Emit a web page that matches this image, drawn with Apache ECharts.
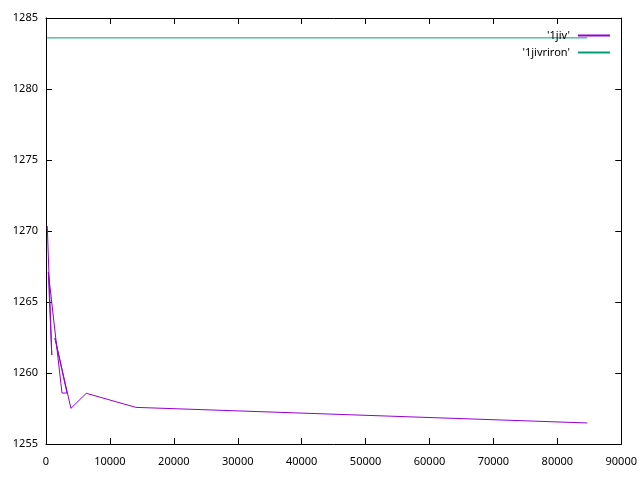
<!DOCTYPE html>
<html>
<head>
<meta charset="utf-8">
<script src="https://cdn.jsdelivr.net/npm/echarts@6/dist/echarts.min.js"></script>
<style>html,body{margin:0;padding:0;background:#fff}#c{width:640px;height:480px}</style>
</head>
<body>
<div id="c"></div>
<script>
var seriesNames = ["'1jiv'", "'1jivriron'"];
var jivX = [200, 906, 360, 2500, 3280, 1400, 3900, 6300, 14060, 84690];
var jivY = [1270.35, 1261.27, 1267.11, 1258.59, 1258.59, 1262.46, 1257.51, 1258.57, 1257.58, 1256.48];
var ironX = [200, 84690];
var ironY = [1283.6, 1283.6];
var xTicks = [0, 10000, 20000, 30000, 40000, 50000, 60000, 70000, 80000, 90000];
var yTicks = [1255, 1260, 1265, 1270, 1275, 1280, 1285];

function pairs(xs, ys) { return xs.map(function (x, i) { return [x, ys[i]]; }); }
function plain(v) { return String(v); }

var chart = echarts.init(document.getElementById('c'), null, {renderer: 'canvas'});
var font = 'Noto Sans';
var axisLineStyle = {color: '#000', width: 1};
var tickStyle = {show: true, inside: true, length: 6, lineStyle: {color: '#000', width: 1}};
chart.setOption({
  animation: false,
  backgroundColor: '#fff',
  grid: {left: 46, right: 18, top: 18, bottom: 36, containLabel: false},
  legend: {
    orient: 'vertical', right: 30, top: 30, padding: 0, align: 'right', itemGap: 6,
    itemWidth: 32, itemHeight: 2, icon: 'rect',
    textStyle: {fontFamily: font, fontSize: 11, color: '#000', padding: [0, 3, 0, 0]},
    data: seriesNames
  },
  xAxis: [{
    type: 'value', min: xTicks[0], max: xTicks[xTicks.length - 1], interval: 10000,
    axisLine: {show: true, lineStyle: axisLineStyle}, axisTick: tickStyle,
    splitLine: {show: false},
    axisLabel: {fontFamily: font, fontSize: 11, color: '#000', margin: 12, formatter: plain}
  }, {
    type: 'value', position: 'top', min: xTicks[0], max: xTicks[xTicks.length - 1], interval: 10000,
    axisLine: {show: true, onZero: false, lineStyle: axisLineStyle}, axisTick: tickStyle,
    splitLine: {show: false}, axisLabel: {show: false}
  }],
  yAxis: [{
    type: 'value', min: yTicks[0], max: yTicks[yTicks.length - 1], interval: 5,
    axisLine: {show: true, lineStyle: axisLineStyle}, axisTick: tickStyle,
    splitLine: {show: false},
    axisLabel: {fontFamily: font, fontSize: 11, color: '#000', margin: 8, formatter: plain}
  }, {
    type: 'value', position: 'right', min: yTicks[0], max: yTicks[yTicks.length - 1], interval: 5,
    axisLine: {show: true, onZero: false, lineStyle: axisLineStyle}, axisTick: tickStyle,
    splitLine: {show: false}, axisLabel: {show: false}
  }],
  series: [{
    name: seriesNames[0], type: 'line', data: pairs(jivX, jivY),
    showSymbol: false, symbol: 'none', color: '#9400d3',
    lineStyle: {width: 1, color: '#9400d3'}
  }, {
    name: seriesNames[1], type: 'line', data: pairs(ironX, ironY),
    showSymbol: false, symbol: 'none', color: '#009e73',
    lineStyle: {width: 1, color: '#009e73'}
  }]
});
</script>
</body>
</html>
